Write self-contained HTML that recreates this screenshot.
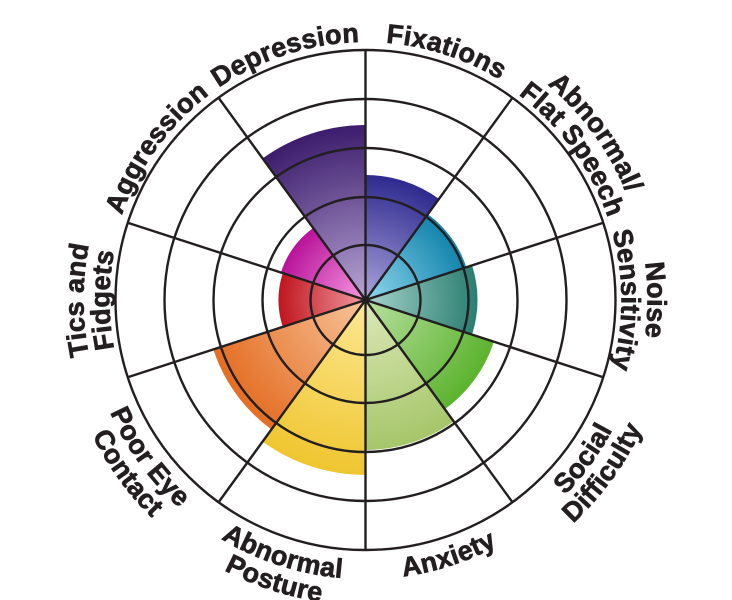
<!DOCTYPE html>
<html><head><meta charset="utf-8"><style>
html,body{margin:0;padding:0;background:#fff;}
svg{display:block;}
text{font-family:"Liberation Sans",Arial,sans-serif;font-weight:bold;font-size:27px;fill:#231f20;stroke:#231f20;stroke-width:0.7;letter-spacing:0.3px;}
</style></head><body>
<svg id="s" width="732" height="600" viewBox="0 0 732 600" xmlns="http://www.w3.org/2000/svg"></svg>
<script>
var cx=365.5,cy=300,s=document.getElementById('s');
function P(r,a){a=a*Math.PI/180;return [cx+r*Math.sin(a),cy-r*Math.cos(a)];}
var wedges=[
[0,125,'#a9a4dc','#2e2a8e'],
[36,106,'#8fd8ee','#1282ab'],
[72,112,'#a6d4cc','#2a7e70'],
[108,135,'#b8e0a0','#5cb32e'],
[144,150,'#dbe9b8','#a6c66a'],
[180,175,'#fde894','#efc630'],
[216,160,'#f8c49a','#e46e24'],
[252,87,'#f09aa0','#c0161f'],
[288,89,'#f69ae0','#b8129a'],
[324,175,'#b8a6d6','#3c1c6c']];
var h='<defs>';
wedges.forEach(function(w,i){h+='<radialGradient id="g'+i+'" gradientUnits="userSpaceOnUse" cx="'+cx+'" cy="'+cy+'" r="'+w[1]+'"><stop offset="0" stop-color="'+w[2]+'"/><stop offset="1" stop-color="'+w[3]+'"/></radialGradient>';});
var labels=[[18,['Fixations'],0],[54,['Abnormal/','Flat Speech'],0],[90,['Noise','Sensitivity'],0],[126,['Social','Difficulty'],1],[162,['Anxiety'],1],[198,['Abnormal','Posture'],1],[234,['Poor Eye','Contact'],1],[270,['Tics and','Fidgets'],0],[306,['Aggression'],0],[342,['Depression'],0]];
var k=0,t='';
labels.forEach(function(l){
 var m=l[0],lines=l[1],ccw=l[2];
 lines.forEach(function(txt,j){
  var r;
  if(!ccw){r=(lines.length==1)?258:(j==0?282:256);}
  else{r=(j==0)?279:305;}
  var a,b,sw;
  if(!ccw){a=P(r,m-70);b=P(r,m+70);sw=1;}else{a=P(r,m+70);b=P(r,m-70);sw=0;}
  h+='<path id="p'+k+'" d="M'+a[0]+' '+a[1]+' A'+r+' '+r+' 0 0 '+sw+' '+b[0]+' '+b[1]+'" fill="none"/>';
  t+='<text><textPath href="#p'+k+'" startOffset="50%" text-anchor="middle">'+txt+'</textPath></text>';
  k++;
 });
});
h+='</defs>';
wedges.forEach(function(w,i){var a=P(w[1],w[0]),b=P(w[1],w[0]+36);
 h+='<path d="M'+cx+' '+cy+' L'+a[0]+' '+a[1]+' A'+w[1]+' '+w[1]+' 0 0 1 '+b[0]+' '+b[1]+' Z" fill="url(#g'+i+')"/>';});
[55,103,152,201,250].forEach(function(r){h+='<circle cx="'+cx+'" cy="'+cy+'" r="'+r+'" fill="none" stroke="#231f20" stroke-width="2.4"/>';});
for(var i=0;i<10;i++){var p=P(250,i*36);h+='<line x1="'+cx+'" y1="'+cy+'" x2="'+p[0]+'" y2="'+p[1]+'" stroke="#231f20" stroke-width="2.4"/>';}
h+=t;
s.innerHTML=h;
</script>
</body></html>
